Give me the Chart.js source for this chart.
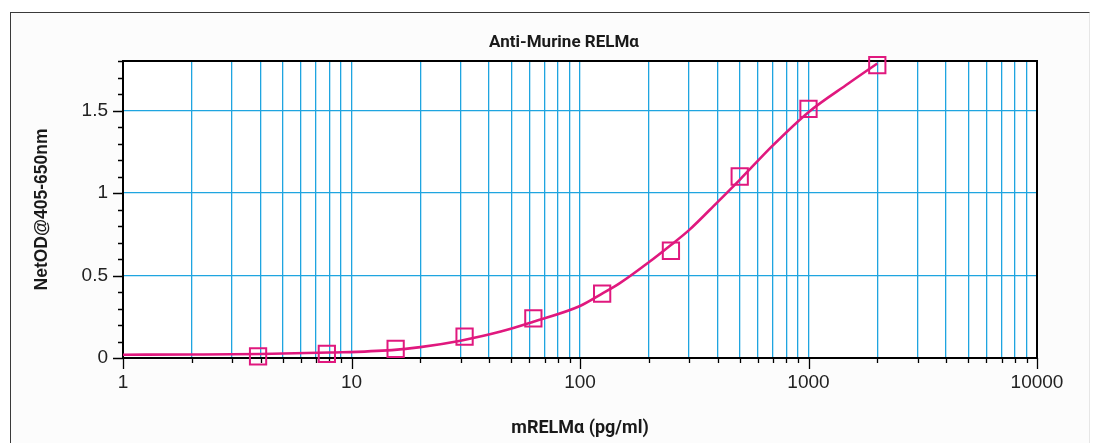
<!DOCTYPE html>
<html><head><meta charset="utf-8">
<script src="https://cdn.jsdelivr.net/npm/chart.js@4.4.1/dist/chart.umd.min.js"></script>
<style>
html,body{margin:0;padding:0;background:#fff;overflow:hidden;}
#frame{position:absolute;left:10px;top:12px;width:1078px;height:440px;border-top:1.5px solid #3a3a3a;border-left:1.5px solid #3a3a3a;border-right:1px solid #e6e6e6;background:#fcfcfc;}
#wrap{position:absolute;left:0;top:0;width:1102px;height:443px;}
</style></head><body>
<div id="frame"></div>
<div id="wrap"><canvas id="c" width="1102" height="443"></canvas></div>
<script>
const chartTitle = 'Anti-Murine RELMα';
const xTitle = 'mRELMα (pg/ml)';
const yTitle = 'NetOD@405-650nm';

// Standards (measured points)
const stdConc = [3.9, 7.8, 15.6, 31.25, 62.5, 125, 250, 500, 1000, 2000];
const stdOD   = [0.010, 0.025, 0.055, 0.13, 0.24, 0.39, 0.65, 1.10, 1.51, 1.775];

// Fitted curve
const curveConc = [1, 2, 4, 8, 15, 20, 30, 45, 62.5, 100, 125, 150, 200, 250, 300, 400, 500, 700, 1000, 1500, 2000];
const curveOD   = [0.020, 0.021, 0.024, 0.033, 0.048, 0.066, 0.105, 0.16, 0.22, 0.315, 0.39, 0.455, 0.58, 0.685, 0.775, 0.945, 1.08, 1.29, 1.49, 1.665, 1.785];

// Axis ticks
const xTickValues = [1,2,3,4,5,6,7,8,9,10,20,30,40,50,60,70,80,90,100,200,300,400,500,600,700,800,900,1000,2000,3000,4000,5000,6000,7000,8000,9000,10000];
const xTickLabels = ['1','10','100','1000','10000'];
const xMajor = [1,10,100,1000,10000];
const yTickValues = [0,0.1,0.2,0.3,0.4,0.5,0.6,0.7,0.8,0.9,1,1.1,1.2,1.3,1.4,1.5,1.6,1.7,1.8];
const yMajor = [0,0.5,1,1.5];
const yTickLabels = ['0','0.5','1','1.5'];

const PINK = '#e0187e';
const GRID = '#1fa5e0';

function isIn(arr, v){ return arr.some(a => Math.abs(a - v) < 1e-9); }

const framePlugin = {
  id: 'framePlugin',
  beforeDraw(chart){
    const {ctx, chartArea:a} = chart;
    ctx.save(); ctx.fillStyle = '#ffffff';
    ctx.fillRect(a.left, a.top, a.right - a.left, a.bottom - a.top);
    ctx.restore();
  },
  beforeDatasetsDraw(chart){
    const {ctx, chartArea:a, scales} = chart;
    ctx.save();
    ctx.strokeStyle = '#000'; ctx.lineWidth = 2;
    ctx.beginPath();
    ctx.moveTo(a.left, a.top); ctx.lineTo(a.right, a.top); ctx.lineTo(a.right, a.bottom);
    ctx.stroke();
    ctx.lineWidth = 1.3;
    ctx.beginPath();
    scales.x.ticks.forEach(t => {
      const px = Math.round(scales.x.getPixelForValue(t.value)) + 0.5;
      const len = isIn(xMajor, t.value) ? 11 : 5;
      ctx.moveTo(px, a.bottom); ctx.lineTo(px, a.bottom + len);
    });
    scales.y.ticks.forEach(t => {
      const py = Math.round(scales.y.getPixelForValue(t.value)) + 0.5;
      const len = isIn(yMajor, t.value) ? 10 : 5;
      ctx.moveTo(a.left, py); ctx.lineTo(a.left - len, py);
    });
    ctx.stroke();
    ctx.restore();
  }
};

new Chart(document.getElementById('c'), {
  type: 'scatter',
  data: {
    datasets: [
      {
        label: 'Fit',
        data: curveConc.map((x, i) => ({x: x, y: curveOD[i]})),
        showLine: true,
        borderColor: PINK,
        borderWidth: 2.6,
        pointRadius: 0,
        cubicInterpolationMode: 'monotone',
        fill: false,
        order: 2
      },
      {
        label: 'Standards',
        data: stdConc.map((x, i) => ({x: x, y: stdOD[i]})),
        showLine: false,
        pointStyle: 'rect',
        pointRadius: 11.5,
        pointBorderWidth: 2,
        borderColor: PINK,
        pointBorderColor: PINK,
        backgroundColor: 'rgba(0,0,0,0)',
        pointBackgroundColor: 'rgba(0,0,0,0)',
        clip: false,
        order: 1
      }
    ]
  },
  options: {
    responsive: false,
    animation: false,
    devicePixelRatio: 1,
    layout: { padding: { left: 26, right: 0, top: 0, bottom: 0 } },
    plugins: {
      legend: { display: false },
      tooltip: { enabled: false },
      title: {
        display: true,
        text: chartTitle,
        color: '#1a1a1a',
        font: { family: 'Roboto', weight: 'bold', size: 17, lineHeight: 1.2 },
        padding: { top: 33, bottom: 7.6 }
      }
    },
    scales: {
      x: {
        type: 'logarithmic',
        min: 1, max: 10000,
        afterBuildTicks: s => { s.ticks = xTickValues.map(v => ({ value: v })); },
        afterFit: s => { s.height = 85; },
        ticks: {
          autoSkip: false, maxRotation: 0, minRotation: 0,
          padding: 13,
          color: '#222',
          font: { family: 'Liberation Sans', size: 19 },
          callback: v => { const i = xMajor.findIndex(m => Math.abs(m - v) < 1e-9); return i >= 0 ? xTickLabels[i] : ''; }
        },
        grid: {
          drawTicks: false,
          lineWidth: 1.3,
          color: c => (c.tick && c.tick.value > 1 && c.tick.value < 10000) ? GRID : 'rgba(0,0,0,0)'
        },
        border: { display: true, color: '#000', width: 2 },
        title: {
          display: true, text: xTitle, color: '#1a1a1a',
          font: { family: 'Roboto', weight: 'bold', size: 18, lineHeight: 1.2 },
          padding: { top: 0, bottom: 4 }
        }
      },
      y: {
        min: 0, max: 1.8,
        afterBuildTicks: s => { s.ticks = yTickValues.map(v => ({ value: v })); },
        afterFit: s => { s.width = 97; },
        ticks: {
          autoSkip: false,
          padding: 15,
          color: '#222',
          font: { family: 'Liberation Sans', size: 19 },
          callback: v => { const i = yMajor.findIndex(m => Math.abs(m - v) < 1e-9); return i >= 0 ? yTickLabels[i] : ''; }
        },
        grid: {
          drawTicks: false,
          lineWidth: 1.3,
          color: c => (c.tick && isIn(yMajor, c.tick.value) && c.tick.value > 0) ? GRID : 'rgba(0,0,0,0)'
        },
        border: { display: true, color: '#000', width: 2 },
        title: {
          display: true, text: yTitle, color: '#1a1a1a',
          font: { family: 'Liberation Sans', weight: 'bold', size: 17.5, lineHeight: 1.2 },
          padding: { top: 5.5, bottom: 0 }
        }
      },
      yR: {
        position: 'right',
        display: true,
        ticks: { display: false },
        grid: { display: false, drawTicks: false },
        border: { display: false },
        afterFit: s => { s.width = 65; }
      }
    }
  },
  plugins: [framePlugin]
});
</script>
</body></html>
